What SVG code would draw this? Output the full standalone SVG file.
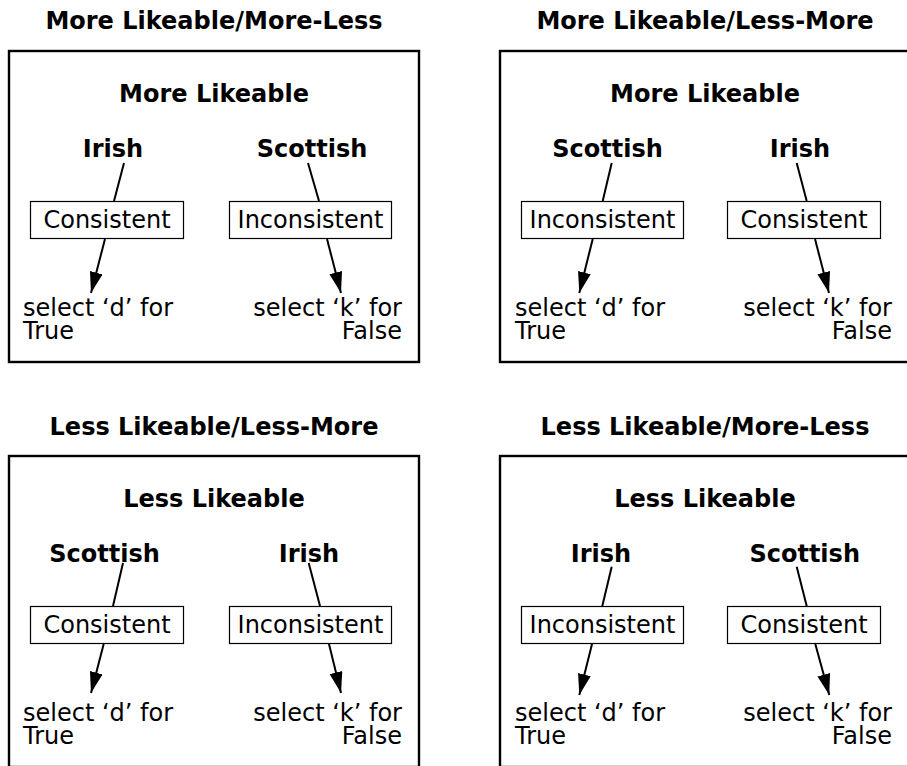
<svg xmlns="http://www.w3.org/2000/svg" width="907" height="766" viewBox="0 0 907 766">
<style>
text{font-family:"DejaVu Sans","Liberation Sans",sans-serif;fill:#000}
.title,.head,.grp{font-size:24px;font-weight:bold;text-anchor:middle}
.lbl{font-size:24px;text-anchor:middle}
.sel{font-size:24px}
.end{text-anchor:end}
.panel{fill:none;stroke:#000;stroke-width:2.4}
.box{fill:#fff;stroke:#000;stroke-width:1.2}
.ln{stroke:#000;stroke-width:2;fill:none}
.arr{stroke:#000;stroke-width:2;fill:none;marker-end:url(#ah)}
</style>
<defs>
<marker id="ah" markerUnits="userSpaceOnUse" markerWidth="21" markerHeight="13" viewBox="0 0 21 13" refX="21" refY="6.5" orient="auto">
<path d="M0,0 L21,6.5 L0,13 z" fill="#000"/>
</marker>
</defs>
<rect fill="#fff" x="0" y="0" width="907" height="766"/>

<!-- Top-left panel -->
<g id="panel-tl">
<text class="title" x="214" y="29">More Likeable/More-Less</text>
<rect class="panel" x="9" y="51" width="410" height="311"/>
<text class="head" x="214" y="102">More Likeable</text>
</g>
<g id="tl-irish"><text class="grp" x="113" y="157">Irish</text></g>
<g id="tl-scottish"><text class="grp" x="312" y="157">Scottish</text></g>
<g id="tl-consistent"><rect class="box" x="30.5" y="201.5" width="153" height="37"/><text class="lbl" x="107" y="228">Consistent</text></g>
<g id="tl-inconsistent"><rect class="box" x="229.5" y="201.5" width="162" height="37"/><text class="lbl" x="310.5" y="228">Inconsistent</text></g>
<g id="tl-true"><text class="sel" x="23" y="316">select ‘d’ for</text><text class="sel" x="23" y="339">True</text></g>
<g id="tl-false"><text class="sel end" x="402" y="316">select ‘k’ for</text><text class="sel end" x="402" y="339">False</text></g>

<!-- Top-right panel -->
<g id="panel-tr">
<text class="title" x="705" y="29">More Likeable/Less-More</text>
<rect class="panel" x="500" y="51" width="410" height="311"/>
<text class="head" x="705" y="102">More Likeable</text>
</g>
<g id="tr-scottish"><text class="grp" x="607.5" y="157">Scottish</text></g>
<g id="tr-irish"><text class="grp" x="800" y="157">Irish</text></g>
<g id="tr-inconsistent"><rect class="box" x="521.5" y="201.5" width="162" height="37"/><text class="lbl" x="602.5" y="228">Inconsistent</text></g>
<g id="tr-consistent"><rect class="box" x="727.5" y="201.5" width="153" height="37"/><text class="lbl" x="804" y="228">Consistent</text></g>
<g id="tr-true"><text class="sel" x="515" y="316">select ‘d’ for</text><text class="sel" x="515" y="339">True</text></g>
<g id="tr-false"><text class="sel end" x="892" y="316">select ‘k’ for</text><text class="sel end" x="892" y="339">False</text></g>

<!-- Bottom-left panel -->
<g id="panel-bl">
<text class="title" x="214" y="435">Less Likeable/Less-More</text>
<rect class="panel" x="9" y="456" width="410" height="311"/>
<text class="head" x="214" y="507">Less Likeable</text>
</g>
<g id="bl-scottish"><text class="grp" x="104.5" y="562">Scottish</text></g>
<g id="bl-irish"><text class="grp" x="309" y="562">Irish</text></g>
<g id="bl-consistent"><rect class="box" x="30.5" y="606.5" width="153" height="37"/><text class="lbl" x="107" y="633">Consistent</text></g>
<g id="bl-inconsistent"><rect class="box" x="229.5" y="606.5" width="162" height="37"/><text class="lbl" x="310.5" y="633">Inconsistent</text></g>
<g id="bl-true"><text class="sel" x="23" y="721">select ‘d’ for</text><text class="sel" x="23" y="744">True</text></g>
<g id="bl-false"><text class="sel end" x="402" y="721">select ‘k’ for</text><text class="sel end" x="402" y="744">False</text></g>

<!-- Bottom-right panel -->
<g id="panel-br">
<text class="title" x="705" y="435">Less Likeable/More-Less</text>
<rect class="panel" x="500" y="456" width="410" height="311"/>
<text class="head" x="705" y="507">Less Likeable</text>
</g>
<g id="br-irish"><text class="grp" x="601" y="562">Irish</text></g>
<g id="br-scottish"><text class="grp" x="804.7" y="562">Scottish</text></g>
<g id="br-inconsistent"><rect class="box" x="521.5" y="606.5" width="162" height="37"/><text class="lbl" x="602.5" y="633">Inconsistent</text></g>
<g id="br-consistent"><rect class="box" x="727.5" y="606.5" width="153" height="37"/><text class="lbl" x="804" y="633">Consistent</text></g>
<g id="br-true"><text class="sel" x="515" y="721">select ‘d’ for</text><text class="sel" x="515" y="744">True</text></g>
<g id="br-false"><text class="sel end" x="892" y="721">select ‘k’ for</text><text class="sel end" x="892" y="744">False</text></g>

<g id="connectors">
<line class="ln" x1="124" y1="163" x2="114" y2="201"/>
<line class="ln" x1="308" y1="163" x2="319" y2="201"/>
<line class="arr" x1="105" y1="239" x2="91" y2="293"/>
<line class="arr" x1="327" y1="239" x2="341" y2="293"/>

<line class="ln" x1="611.7" y1="163" x2="602.7" y2="201"/>
<line class="ln" x1="796.7" y1="163" x2="806.7" y2="201"/>
<line class="arr" x1="592.7" y1="239" x2="579.3" y2="293"/>
<line class="arr" x1="815" y1="239" x2="829" y2="293"/>

<line class="ln" x1="123" y1="563" x2="113" y2="606"/>
<line class="ln" x1="308.7" y1="563" x2="320" y2="606"/>
<line class="arr" x1="103.7" y1="644" x2="91" y2="693"/>
<line class="arr" x1="329" y1="644" x2="341" y2="693"/>

<line class="ln" x1="611.7" y1="566.7" x2="602.3" y2="606"/>
<line class="ln" x1="796.7" y1="566.7" x2="806.7" y2="606"/>
<line class="arr" x1="592" y1="644" x2="579.3" y2="695"/>
<line class="arr" x1="815.3" y1="644" x2="829.3" y2="695"/>
</g>
</svg>
